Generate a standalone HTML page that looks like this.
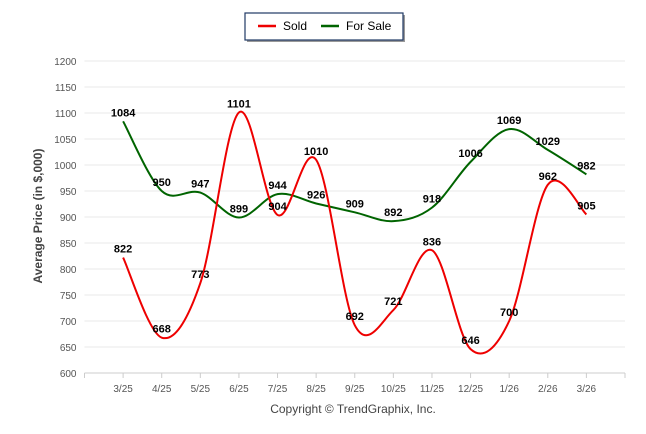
<!DOCTYPE html>
<html><head><meta charset="utf-8"><style>
body{margin:0;background:#fff;}
svg{display:block;font-family:"Liberation Sans",sans-serif;}
</style></head><body>
<svg id="c" width="646" height="434">
<g>
<rect x="247" y="15" width="158" height="27" fill="#999"/>
<rect x="245" y="13" width="158" height="27" fill="#fff" stroke="#1f3864" stroke-width="1.2"/>
<line x1="258" y1="26" x2="276" y2="26" stroke="#e00" stroke-width="2.5"/>
<text x="283" y="30" font-size="12" fill="#000">Sold</text>
<line x1="321" y1="26" x2="339" y2="26" stroke="#006400" stroke-width="2.5"/>
<text x="346" y="30" font-size="12" fill="#000">For Sale</text>
</g>
<text transform="translate(42,216) rotate(-90)" text-anchor="middle" font-size="12" font-weight="bold" fill="#444">Average Price (in $,000)</text>
<text x="353" y="413" text-anchor="middle" font-size="12" fill="#444">Copyright © TrendGraphix, Inc.</text>
</svg>
<script>
const categories=["3/25","4/25","5/25","6/25","7/25","8/25","9/25","10/25","11/25","12/25","1/26","2/26","3/26"];
const soldValues=[822,668,773,1101,904,1010,692,721,836,646,700,962,905];
const forSaleValues=[1084,950,947,899,944,926,909,892,918,1006,1069,1029,982];
const yTicks=[600,650,700,750,800,850,900,950,1000,1050,1100,1150,1200];
const svg=document.getElementById('c');
const NS='http://www.w3.org/2000/svg';
const L=84.5,R=625,T=61,B=373,ymin=600,ymax=1200;
const step=(R-L)/(categories.length+1);
const x=i=>L+step*(i+1);
const y=v=>B-(v-ymin)/(ymax-ymin)*(B-T);
function mk(t,a){const e=document.createElementNS(NS,t);for(const k in a)e.setAttribute(k,a[k]);svg.appendChild(e);return e;}
yTicks.forEach(v=>{
 const g=mk('line',{x1:L,x2:R,y1:y(v),y2:y(v),stroke:'#e8e8e8','stroke-width':1});
 
 
 const t=mk('text',{x:L-8,y:y(v)+4,'text-anchor':'end','font-size':10,fill:'#555'});
 t.textContent=v;
 
 
});
const ax=mk('line',{x1:L,x2:R,y1:B,y2:B,stroke:'#ccc'});


[L,R].forEach(p=>mk('line',{x1:p,x2:p,y1:B,y2:B+5,stroke:'#ccc'}));
categories.forEach((c,i)=>{
 mk('line',{x1:x(i),x2:x(i),y1:B,y2:B+5,stroke:'#ccc'});
 const t=mk('text',{x:x(i),y:B+19,'text-anchor':'middle','font-size':10,fill:'#555'});
 t.textContent=c;
 
 
});
function path(vals){
 const p=vals.map((v,i)=>[x(i),y(v)]);
 let d='M'+p[0][0]+','+p[0][1];
 for(let i=0;i<p.length-1;i++){
  const p0=p[i-1]||p[i],p1=p[i],p2=p[i+1],p3=p[i+2]||p2;
  const c1=[p1[0]+(p2[0]-p0[0])/6,p1[1]+(p2[1]-p0[1])/6];
  const c2=[p2[0]-(p3[0]-p1[0])/6,p2[1]-(p3[1]-p1[1])/6];
  d+=` C${c1[0]},${c1[1]} ${c2[0]},${c2[1]} ${p2[0]},${p2[1]}`;
 }
 return d;
}
const fs=mk('path',{d:path(forSaleValues),fill:'none',stroke:'#006400','stroke-width':2});


const sd=mk('path',{d:path(soldValues),fill:'none',stroke:'#e00','stroke-width':2});


[[soldValues,'sold-value-label'],[forSaleValues,'for-sale-value-label']].forEach(([vals,n])=>{
 vals.forEach((v,i)=>{
  const t=mk('text',{x:x(i),y:y(v)-5,'text-anchor':'middle','font-size':11,'font-weight':'bold',fill:'#000'});
  t.textContent=v;
  
  
 });
});
</script>
</body></html>
